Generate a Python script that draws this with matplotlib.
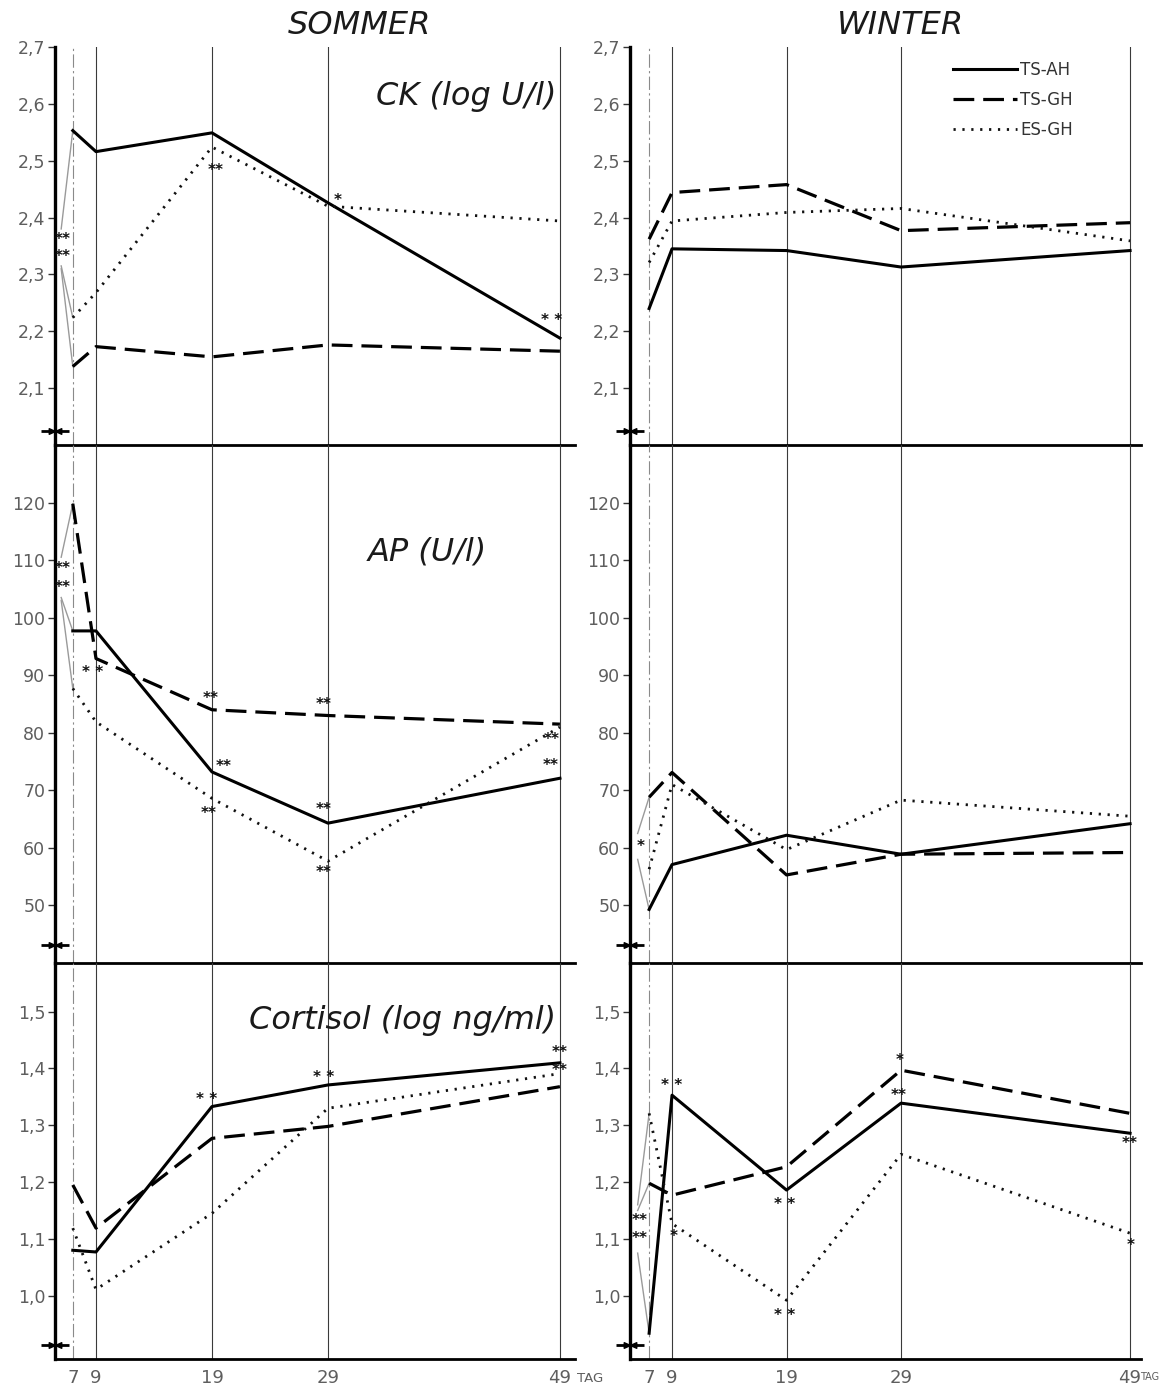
import numpy as np
import matplotlib
matplotlib.use("Agg")
import matplotlib.pyplot as plt
from matplotlib.lines import Line2D
from matplotlib.path import Path

# ---------------------------------------------------------------- data
days = [6, 7, 9, 19, 29, 49]          # first entry = pre-value, linked thinly
groups = ["TS-AH", "TS-GH", "ES-GH"]
nan = np.nan

# CK (log U/l)
ck_sommer_ts_ah = [2.38, 2.553, 2.516, 2.549, 2.426, 2.188]
ck_sommer_ts_gh = [2.31, 2.138, 2.173, 2.155, 2.176, 2.165]
ck_sommer_es_gh = [2.315, 2.224, 2.268, 2.524, 2.42, 2.394]
ck_winter_ts_ah = [nan, 2.24, 2.345, 2.342, 2.313, 2.342]
ck_winter_ts_gh = [nan, 2.362, 2.444, 2.458, 2.377, 2.391]
ck_winter_es_gh = [nan, 2.321, 2.394, 2.409, 2.416, 2.359]

# AP (U/l)
ap_sommer_ts_ah = [103.5, 97.7, 97.7, 73.2, 64.3, 72.1]
ap_sommer_ts_gh = [110.5, 119.8, 92.9, 84.0, 83.0, 81.5]
ap_sommer_es_gh = [103.0, 87.7, 81.9, 68.6, 57.7, 81.0]
ap_winter_ts_ah = [58.0, 49.3, 57.1, 62.2, 58.9, 64.2]
ap_winter_ts_gh = [62.5, 68.8, 73.1, 55.3, 58.9, 59.2]
ap_winter_es_gh = [nan, 56.3, 71.0, 59.7, 68.3, 65.5]

# Cortisol (log ng/ml)
cort_sommer_ts_ah = [nan, 1.080, 1.077, 1.333, 1.371, 1.410]
cort_sommer_ts_gh = [nan, 1.195, 1.119, 1.277, 1.298, 1.368]
cort_sommer_es_gh = [nan, 1.119, 1.011, 1.145, 1.330, 1.391]
cort_winter_ts_ah = [1.075, 0.934, 1.353, 1.186, 1.339, 1.286]
cort_winter_ts_gh = [1.15, 1.198, 1.177, 1.227, 1.397, 1.321]
cort_winter_es_gh = [1.16, 1.321, 1.127, 0.992, 1.249, 1.110]

y_ticks_ck = [2.1, 2.2, 2.3, 2.4, 2.5, 2.6, 2.7]
y_ticks_ap = [50, 60, 70, 80, 90, 100, 110, 120]
y_ticks_cort = [1.0, 1.1, 1.2, 1.3, 1.4, 1.5]
x_tick_days = [7, 9, 19, 29, 49]

season_titles = {"s": "SOMMER", "w": "WINTER"}
param_titles = {"ck": "CK (log U/l)", "ap": "AP (U/l)", "cort": "Cortisol (log ng/ml)"}

series = {
    ("ck", "s"): [ck_sommer_ts_ah, ck_sommer_ts_gh, ck_sommer_es_gh],
    ("ck", "w"): [ck_winter_ts_ah, ck_winter_ts_gh, ck_winter_es_gh],
    ("ap", "s"): [ap_sommer_ts_ah, ap_sommer_ts_gh, ap_sommer_es_gh],
    ("ap", "w"): [ap_winter_ts_ah, ap_winter_ts_gh, ap_winter_es_gh],
    ("cort", "s"): [cort_sommer_ts_ah, cort_sommer_ts_gh, cort_sommer_es_gh],
    ("cort", "w"): [cort_winter_ts_ah, cort_winter_ts_gh, cort_winter_es_gh],
}
y_ticks = {"ck": y_ticks_ck, "ap": y_ticks_ap, "cort": y_ticks_cort}

# significance marks: (parameter, season, group, day, mark, dx px, dy px)
sig_marks = [
    ("ck", "s", "TS-AH", 6, "**", 1, -11),
    ("ck", "s", "ES-GH", 6, "**", 1, 9),
    ("ck", "s", "ES-GH", 19, "**", 4, -23),
    ("ck", "s", "ES-GH", 29, "*", 10, 6),
    ("ck", "s", "TS-AH", 49, "* *", -8, 18),
    ("ap", "s", "TS-GH", 6, "**", 1, -11),
    ("ap", "s", "TS-AH", 6, "**", 1, 10),
    ("ap", "s", "TS-GH", 9, "* *", -3, -14),
    ("ap", "s", "TS-GH", 19, "**", -1, 11),
    ("ap", "s", "TS-AH", 19, "**", 12, 5),
    ("ap", "s", "ES-GH", 19, "**", -3, -15),
    ("ap", "s", "TS-GH", 29, "**", -4, 11),
    ("ap", "s", "TS-AH", 29, "**", -4, 14),
    ("ap", "s", "ES-GH", 29, "**", -4, -11),
    ("ap", "s", "ES-GH", 49, "**", -8, -12),
    ("ap", "s", "TS-AH", 49, "**", -9, 13),
    ("ap", "w", "TS-AH", 6, "*", 3, 13),
    ("cort", "s", "TS-AH", 19, "* *", -5, 7),
    ("cort", "s", "TS-AH", 29, "* *", -4, 7),
    ("cort", "s", "TS-AH", 49, "**", 0, 10),
    ("cort", "s", "TS-AH", 49, "**", 0, -8),
    ("cort", "w", "TS-AH", 6, "**", 2, 33),
    ("cort", "w", "TS-AH", 6, "**", 2, 15),
    ("cort", "w", "TS-AH", 9, "* *", 0, 10),
    ("cort", "w", "ES-GH", 9, "*", 2, -13),
    ("cort", "w", "TS-AH", 19, "* *", -2, -14),
    ("cort", "w", "ES-GH", 19, "* *", -2, -15),
    ("cort", "w", "TS-GH", 29, "*", -1, 10),
    ("cort", "w", "TS-AH", 29, "**", -2, 8),
    ("cort", "w", "TS-AH", 49, "**", 0, -10),
    ("cort", "w", "ES-GH", 49, "*", 1, -12),
]

# ---------------------------------------------------------------- layout
W, H = 1159, 1390
fig = plt.figure(figsize=(W / 100, H / 100), dpi=100)
fig.patch.set_facecolor("white")

# column: left px, width px, x-limits
col_px = {"s": (55, 520, 5.466, 50.3), "w": (630, 511.5, 5.33, 50.0)}
# row: top px, bottom px, y-limits
row_px = {"ck": (47, 445, (2.0, 2.7)),
          "ap": (445, 963, (40, 130)),
          "cort": (963, 1359, (0.8886, 1.5857))}

line_styles = {
    "TS-AH": dict(color="black", lw=2.2, linestyle="-"),
    "TS-GH": dict(color="black", lw=2.3, linestyle=(0, (6.5, 2.8))),
    "ES-GH": dict(color="#111111", lw=2.0, linestyle=(0, (0.8, 2.4))),
}
tick_color = "#5e5e5e"
px = 0.72  # points per pixel at 100 dpi

# axis-break symbol: small bow-tie on the y axis
bowtie = Path([(-1, 0.45), (0, 0), (-1, -0.45), (-1, 0.45),
               (1, 0.45), (0, 0), (1, -0.45), (1, 0.45)],
              [Path.MOVETO, Path.LINETO, Path.LINETO, Path.CLOSEPOLY,
               Path.MOVETO, Path.LINETO, Path.LINETO, Path.CLOSEPOLY])


def fmt(v):
    s = f"{v:g}" if v >= 10 else f"{v:.1f}"
    return s.replace(".", ",")


axes = {}
for param, (top, bot, ylim) in row_px.items():
    for season, (x0, wpx, xl, xr) in col_px.items():
        ax = fig.add_axes([x0 / W, 1 - bot / H, wpx / W, (bot - top) / H])
        axes[(param, season)] = ax
        ax.set_xlim(xl, xr)
        ax.set_ylim(*ylim)
        ax.patch.set_alpha(0)
        for sp in ("top", "right"):
            ax.spines[sp].set_visible(False)
        ax.spines["left"].set_linewidth(2.4)
        ax.spines["bottom"].set_linewidth(2.0)

        # day grid
        ax.axvline(7, color="#8a8a8a", lw=0.8, linestyle=(0, (12, 3, 2, 3)), zorder=1)
        for d in x_tick_days[1:]:
            ax.axvline(d, color="#3a3a3a", lw=0.8, zorder=1)

        ax.set_yticks(y_ticks[param])
        ax.set_yticklabels([fmt(v) for v in y_ticks[param]])
        ax.tick_params(axis="y", direction="out", length=5, width=1,
                       labelsize=12.5, labelcolor=tick_color, color="#333", pad=2)
        ax.set_xticks(x_tick_days)
        if param == "cort":
            ax.set_xticklabels([str(d) for d in x_tick_days])
            ax.tick_params(axis="x", length=0, labelsize=13,
                           labelcolor=tick_color, pad=7)
            tag_size = 9.5 if season == "s" else 7
            tag_dx = 12 if season == "s" else 7
            ax.annotate("TAG", xy=(49, 0), xycoords=("data", "axes fraction"),
                        xytext=(tag_dx, -9), textcoords="offset points",
                        ha="left", va="top", fontsize=tag_size, color=tick_color,
                        annotation_clip=False)
        else:
            ax.tick_params(axis="x", length=0, labelbottom=False)

        # curves
        d = np.array(days, dtype=float)
        for g, vals in zip(groups, series[(param, season)]):
            v = np.array(vals, dtype=float)
            ax.plot(d[:2], v[:2], color="#9a9a9a", lw=1.0, zorder=2)
            ax.plot(d[1:], v[1:], zorder=3, **line_styles[g])

        # axis break
        yb = ylim[0] + 0.035 * (ylim[1] - ylim[0])
        ax.plot([xl], [yb], marker="_", ms=20, mew=2.0, color="black",
                clip_on=False, zorder=5)
        ax.plot([xl], [yb], marker=bowtie, ms=9, color="black",
                clip_on=False, zorder=5)

# significance marks
for param, season, g, day, mark, dx, dy in sig_marks:
    ax = axes[(param, season)]
    vals = series[(param, season)][groups.index(g)]
    yv = vals[days.index(day)]
    ax.annotate(mark, xy=(day, yv), xytext=(dx * px, dy * px),
                textcoords="offset points", ha="center", va="center",
                fontsize=11, fontweight="bold", color="#111",
                annotation_clip=False, zorder=6)

# panel captions
caption_pos = {"ck": (556, 97, "right"), "ap": (427, 552, "center"),
               "cort": (556, 1021, "right")}
for param, (cx, cy, ha) in caption_pos.items():
    fig.text(cx / W, 1 - cy / H, param_titles[param], ha=ha, va="center",
             fontsize=23, style="italic", color="#1a1a1a")

fig.text(360 / W, 1 - 26 / H, season_titles["s"], ha="center", va="center",
         fontsize=23, style="italic", color="#1a1a1a")
fig.text(900 / W, 1 - 26 / H, season_titles["w"], ha="center", va="center",
         fontsize=23, style="italic", color="#1a1a1a")

# legend
handles = [Line2D([], [], **line_styles[g]) for g in groups]
axes[("ck", "w")].legend(handles, groups, loc="upper right",
                         bbox_to_anchor=(0.882, 0.985), frameon=False,
                         fontsize=12, handlelength=3.8, handletextpad=0.2,
                         labelspacing=0.72, borderpad=0, labelcolor="#333")

fig.savefig("out.png", dpi=100, facecolor="white")
